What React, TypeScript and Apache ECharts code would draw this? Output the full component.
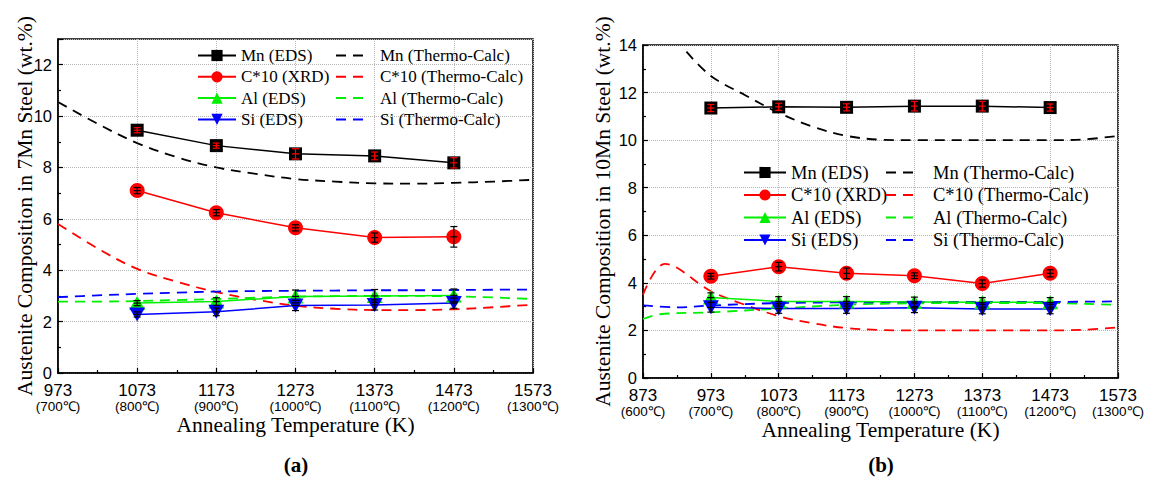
import React, { useEffect, useRef } from "react";
import * as echarts from "echarts";

// ---------- Panel (a): 7Mn steel ----------
const T_EDS_7 = [1073, 1173, 1273, 1373, 1473];
const mnEds7 = [9.45, 8.85, 8.53, 8.45, 8.18];
const mnErr7 = [0.1, 0.1, 0.2, 0.15, 0.2];
const cXrd7 = [7.1, 6.24, 5.65, 5.27, 5.3];
const cErr7 = [0.12, 0.12, 0.12, 0.18, 0.4];
const alEds7 = [2.72, 2.78, 2.98, 3.0, 3.02];
const alErr7 = [0.1, 0.15, 0.25, 0.25, 0.25];
const siEds7 = [2.28, 2.38, 2.63, 2.65, 2.72];
const siErr7 = [0.1, 0.15, 0.2, 0.2, 0.2];

const T_TC_7 = [973, 1023, 1073, 1123, 1173, 1223, 1273, 1323, 1373, 1423, 1473, 1523, 1573];
const mnTc7 = [10.55, 9.7, 8.95, 8.4, 8.0, 7.75, 7.55, 7.45, 7.38, 7.37, 7.4, 7.45, 7.52];
const cTc7 = [5.8, 4.85, 4.05, 3.55, 3.15, 2.85, 2.62, 2.5, 2.45, 2.45, 2.48, 2.56, 2.66];
const alTc7 = [2.78, 2.78, 2.8, 2.84, 2.88, 2.93, 2.97, 2.99, 3.0, 3.0, 2.98, 2.94, 2.88];
const siTc7 = [2.95, 3.02, 3.08, 3.13, 3.17, 3.19, 3.2, 3.21, 3.22, 3.22, 3.23, 3.24, 3.25];

// ---------- Panel (b): 10Mn steel ----------
const T_EDS_10 = [973, 1073, 1173, 1273, 1373, 1473];
const mnEds10 = [11.35, 11.4, 11.38, 11.43, 11.43, 11.37];
const mnErr10 = [0.15, 0.15, 0.15, 0.2, 0.2, 0.15];
const cXrd10 = [4.28, 4.68, 4.4, 4.3, 3.97, 4.4];
const cErr10 = [0.12, 0.18, 0.22, 0.12, 0.15, 0.15];
const alEds10 = [3.38, 3.22, 3.22, 3.2, 3.18, 3.18];
const alErr10 = [0.2, 0.2, 0.2, 0.2, 0.2, 0.2];
const siEds10 = [2.97, 2.92, 2.92, 2.95, 2.9, 2.9];
const siErr10 = [0.2, 0.2, 0.2, 0.2, 0.2, 0.2];

const T_MN_TC_10 = [937, 973, 1023, 1073, 1123, 1173, 1223, 1273, 1373, 1473, 1523, 1573];
const mnTc10 = [13.72, 12.7, 11.9, 11.15, 10.57, 10.18, 10.02, 10.0, 10.0, 10.0, 10.03, 10.18];
const T_C_TC_10 = [873, 905, 973, 1023, 1073, 1123, 1173, 1223, 1273, 1373, 1473, 1523, 1573];
const cTc10 = [3.5, 4.8, 3.65, 3.08, 2.6, 2.3, 2.1, 2.02, 2.0, 2.0, 2.0, 2.03, 2.13];
const T_AL_TC_10 = [873, 898, 973, 1073, 1173, 1273, 1373, 1473, 1573];
const alTc10 = [2.48, 2.68, 2.76, 2.92, 3.08, 3.14, 3.15, 3.15, 3.07];
const T_SI_TC_10 = [873, 923, 973, 1073, 1173, 1273, 1373, 1473, 1573];
const siTc10 = [3.05, 2.97, 3.05, 3.15, 3.18, 3.19, 3.2, 3.2, 3.22];

const EDS_NAMES = ["Mn (EDS)", "C*10 (XRD)", "Al (EDS)", "Si (EDS)"];
const TC_NAMES = ["Mn (Thermo-Calc)", "C*10 (Thermo-Calc)", "Al (Thermo-Calc)", "Si (Thermo-Calc)"];
const COLORS = ["#000000", "#ff0000", "#00f000", "#0000ff"];
const Y_TITLES = [
  "Austenite Composition in 7Mn Steel (wt.%)",
  "Austenite Composition in 10Mn Steel (wt.%)",
];
const X_TITLE = "Annealing Temperature (K)";
const PANEL_LABELS = ["(a)", "(b)"];

const SERIF = "Liberation Serif";
const SANS = "Liberation Sans";
const INV_TRI = "path://M0,0L16,0L8,14Z";
const SYMBOLS = ["rect", "circle", "triangle", INV_TRI];
const SYM_SIZES: any[] = [13, 15, [16, 14], [16, 14]];

const toC = (k: number) => k - 273;
const pts = (T: number[], v: number[]) => T.map((t, i) => [toC(t), v[i]]);
const errPts = (T: number[], v: number[], e: number[]) => T.map((t, i) => [toC(t), v[i], e[i]]);

function errRender(color: string) {
  return (params: any, api: any) => {
    const x = api.value(0);
    const y = api.value(1);
    const e = api.value(2);
    const c = api.coord([x, y]);
    const t = api.coord([x, y + e]);
    const b = api.coord([x, y - e]);
    const w = 3.5;
    const st = { stroke: color, lineWidth: 1.2 };
    return {
      type: "group",
      children: [
        { type: "line", shape: { x1: c[0], y1: t[1], x2: c[0], y2: b[1] }, style: st },
        { type: "line", shape: { x1: c[0] - w, y1: t[1], x2: c[0] + w, y2: t[1] }, style: st },
        { type: "line", shape: { x1: c[0] - w, y1: b[1], x2: c[0] + w, y2: b[1] }, style: st },
        { type: "line", shape: { x1: c[0] - w, y1: c[1], x2: c[0] + w, y2: c[1] }, style: st },
      ],
    };
  };
}

function makeAxes(i: number, xmin: number, ymax: number, nameGap: number) {
  const xAxis = {
    type: "value",
    gridIndex: i,
    min: xmin,
    max: 1300,
    interval: 100,
    axisLine: { show: true, onZero: false, lineStyle: { color: "#000", width: 1.5 } },
    axisTick: { show: true, inside: true, length: 5, lineStyle: { color: "#000", width: 1.2 } },
    minorTick: { show: true, splitNumber: 2, length: 3, lineStyle: { color: "#000", width: 1.2 } },
    splitLine: { show: true, lineStyle: { color: "#b5b5b5", type: "dotted", width: 1 } },
    axisLabel: {
      margin: 9,
      formatter: (v: number) => `{k|${v + 273}}\n{c|(${v}℃)}`,
      rich: {
        k: { fontFamily: SANS, fontSize: 17, lineHeight: 17, color: "#000" },
        c: { fontFamily: SANS, fontSize: 13.5, lineHeight: 14, color: "#000" },
      },
    },
    name: X_TITLE,
    nameLocation: "middle",
    nameGap: 41,
    nameMoveOverlap: false,
    nameTextStyle: { fontFamily: SERIF, fontSize: 21.5, color: "#000" },
  };
  const yAxis = {
    type: "value",
    gridIndex: i,
    min: 0,
    max: ymax,
    interval: 2,
    axisLine: { show: true, onZero: false, lineStyle: { color: "#000", width: 1.5 } },
    axisTick: { show: true, inside: true, length: 5, lineStyle: { color: "#000", width: 1.2 } },
    minorTick: { show: true, splitNumber: 2, length: 3, lineStyle: { color: "#000", width: 1.2 } },
    splitLine: { show: true, lineStyle: { color: "#b5b5b5", type: "dotted", width: 1 } },
    axisLabel: {
      margin: 6,
      fontFamily: SANS,
      fontSize: 16.5,
      color: "#000",
      formatter: (v: number) => (v % 2 === 0 ? String(v) : ""),
    },
    name: Y_TITLES[i],
    nameLocation: "middle",
    nameGap,
    nameMoveOverlap: false,
    nameTextStyle: { fontFamily: SERIF, fontSize: 21.5, color: "#000" },
  };
  return { xAxis, yAxis };
}

function edsSeries(i: number, k: number, T: number[], v: number[]) {
  return {
    type: "line",
    name: EDS_NAMES[k],
    xAxisIndex: i,
    yAxisIndex: i,
    data: pts(T, v),
    symbol: SYMBOLS[k],
    symbolSize: SYM_SIZES[k],
    showSymbol: true,
    lineStyle: { color: COLORS[k], width: 1.5 },
    itemStyle: { color: COLORS[k] },
    z: 4,
  };
}

function tcSeries(i: number, k: number, T: number[], v: number[]) {
  return {
    type: "line",
    name: TC_NAMES[k],
    xAxisIndex: i,
    yAxisIndex: i,
    data: pts(T, v),
    symbol: "none",
    smooth: 0.35,
    lineStyle: { color: COLORS[k], width: 1.8, type: [10, 7] },
    itemStyle: { color: COLORS[k] },
    z: 3,
  };
}

function errSeries(i: number, color: string, T: number[], v: number[], e: number[]) {
  return {
    type: "custom",
    xAxisIndex: i,
    yAxisIndex: i,
    data: errPts(T, v, e),
    encode: { x: 0, y: 1 },
    renderItem: errRender(color),
    z: 5,
    silent: true,
  };
}

function legend(
  left: number,
  top: number,
  names: string[],
  itemWidth: number,
  gap: number,
  pad: number,
  hideSymbol: boolean,
  fontSize: number
) {
  return {
    left,
    top,
    orient: "vertical",
    padding: 0,
    itemWidth,
    itemHeight: 14,
    itemGap: gap,
    selectedMode: false,
    data: names.map((n) => (hideSymbol ? { name: n, itemStyle: { opacity: 0 } } : { name: n })),
    textStyle: { fontFamily: SERIF, fontSize, color: "#000", padding: [0, 0, 0, pad] },
  };
}

export default function App() {
  const ref = useRef<HTMLDivElement>(null);
  useEffect(() => {
    if (!ref.current) return;
    const chart = echarts.init(ref.current, undefined, { renderer: "svg" });
    const a0 = makeAxes(0, 700, 13, 22);
    const a1 = makeAxes(1, 600, 14, 29);
    const option: any = {
      animation: false,
      backgroundColor: "#fff",
      grid: [
        { left: 58, top: 39, width: 475, height: 334, show: true, borderColor: "#000", borderWidth: 1.5, containLabel: false },
        { left: 643, top: 45, width: 475, height: 333, show: true, borderColor: "#000", borderWidth: 1.5, containLabel: false },
      ],
      xAxis: [a0.xAxis, a1.xAxis],
      yAxis: [a0.yAxis, a1.yAxis],
      legend: [
        legend(197, 47, EDS_NAMES, 38, 4.3, 0, false, 17),
        legend(335, 47, TC_NAMES, 28, 4.3, 11, true, 17),
        legend(743, 163, EDS_NAMES, 42, 3.5, 0, false, 18.5),
        legend(885, 163, TC_NAMES, 28, 3.5, 14, true, 18.5),
      ],
      series: [
        tcSeries(0, 0, T_TC_7, mnTc7),
        tcSeries(0, 1, T_TC_7, cTc7),
        tcSeries(0, 2, T_TC_7, alTc7),
        tcSeries(0, 3, T_TC_7, siTc7),
        edsSeries(0, 0, T_EDS_7, mnEds7),
        edsSeries(0, 1, T_EDS_7, cXrd7),
        edsSeries(0, 2, T_EDS_7, alEds7),
        edsSeries(0, 3, T_EDS_7, siEds7),
        errSeries(0, "#ff0000", T_EDS_7, mnEds7, mnErr7),
        errSeries(0, "#000000", T_EDS_7, cXrd7, cErr7),
        errSeries(0, "#000000", T_EDS_7, alEds7, alErr7),
        errSeries(0, "#000000", T_EDS_7, siEds7, siErr7),

        tcSeries(1, 0, T_MN_TC_10, mnTc10),
        tcSeries(1, 1, T_C_TC_10, cTc10),
        tcSeries(1, 2, T_AL_TC_10, alTc10),
        tcSeries(1, 3, T_SI_TC_10, siTc10),
        edsSeries(1, 0, T_EDS_10, mnEds10),
        edsSeries(1, 1, T_EDS_10, cXrd10),
        edsSeries(1, 2, T_EDS_10, alEds10),
        edsSeries(1, 3, T_EDS_10, siEds10),
        errSeries(1, "#ff0000", T_EDS_10, mnEds10, mnErr10),
        errSeries(1, "#000000", T_EDS_10, cXrd10, cErr10),
        errSeries(1, "#000000", T_EDS_10, alEds10, alErr10),
        errSeries(1, "#000000", T_EDS_10, siEds10, siErr10),
      ],
      graphic: [
        {
          type: "text",
          x: 296,
          y: 465,
          style: { text: PANEL_LABELS[0], font: `bold 21px ${SERIF}`, fill: "#000", align: "center", verticalAlign: "middle" },
        },
        {
          type: "text",
          x: 881,
          y: 465,
          style: { text: PANEL_LABELS[1], font: `bold 21px ${SERIF}`, fill: "#000", align: "center", verticalAlign: "middle" },
        },
      ],
    };
    chart.setOption(option);
    return () => chart.dispose();
  }, []);
  return (
    <div
      ref={ref}
      style={{ position: "absolute", left: 0, top: 0, width: 1155, height: 481 }}
    />
  );
}
